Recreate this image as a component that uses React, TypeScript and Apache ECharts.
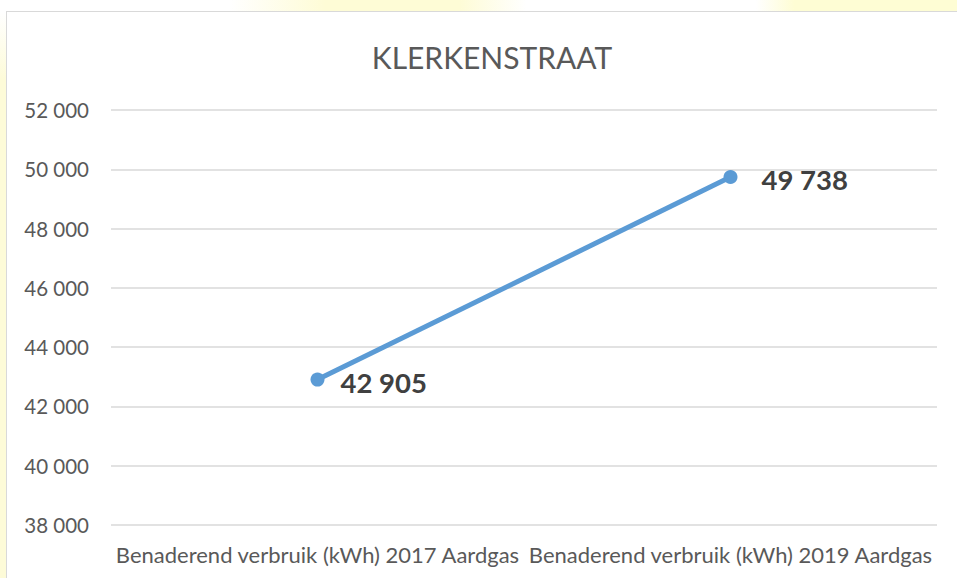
import React, { useEffect, useRef } from "react";
import * as echarts from "echarts";

const title = "KLERKENSTRAAT";
const categories = [
  "Benaderend verbruik (kWh) 2017 Aardgas",
  "Benaderend verbruik (kWh) 2019 Aardgas",
];
const values = [42905, 49738];
const yMin = 38000;
const yMax = 52000;
const yInterval = 2000;

const fmt = (v: number) =>
  String(Math.round(v)).replace(/\B(?=(\d{3})+(?!\d))/g, " ");

const FONT = "Lato, 'Open Sans', sans-serif";

export default function App() {
  const ref = useRef<HTMLDivElement>(null);
  useEffect(() => {
    document.body.style.margin = "0";
    const chart = echarts.init(ref.current!, null, { renderer: "svg" });
    chart.setOption({
      animation: false,
      backgroundColor: "transparent",
      title: {
        text: title,
        left: 487,
        top: 37,
        textAlign: "center",
        textStyle: {
          fontFamily: FONT,
          fontSize: 30,
          fontWeight: "normal",
          color: "#595959",
        },
      },
      grid: { left: 111, right: 20, top: 110, bottom: 53, containLabel: false },
      xAxis: {
        type: "category",
        data: categories,
        boundaryGap: true,
        axisLine: { show: false },
        axisTick: { show: false },
        axisLabel: {
          interval: 0,
          margin: 18,
          fontFamily: FONT,
          fontSize: 22,
          color: "#595959",
        },
      },
      yAxis: {
        type: "value",
        min: yMin,
        max: yMax,
        interval: yInterval,
        axisLine: { show: false },
        axisTick: { show: false },
        splitLine: { lineStyle: { color: "#d9d9d9", width: 1.5 } },
        axisLabel: {
          margin: 22,
          fontFamily: FONT,
          fontSize: 20.5,
          color: "#595959",
          formatter: (v: number) => fmt(v),
        },
      },
      series: [
        {
          type: "line",
          data: values.map((v, i) => ({
            value: v,
            label: i === 0 ? { distance: 16, offset: [0, 3] } : { distance: 24, offset: [0, 2] },
          })),
          symbol: "circle",
          symbolSize: 14,
          lineStyle: { color: "#5b9bd5", width: 5 },
          itemStyle: { color: "#5b9bd5" },
          label: {
            show: true,
            position: "right",
            fontFamily: FONT,
            fontSize: 27.5,
            fontWeight: "bold",
            color: "#404040",
            formatter: (p: any) => fmt(p.value),
          },
        },
      ],
    });
    return () => chart.dispose();
  }, []);

  return (
    <div
      style={{
        position: "relative",
        width: 957,
        height: 578,
        overflow: "hidden",
        background: "#ffffff",
      }}
    >
      <div
        style={{
          position: "absolute",
          left: 0,
          top: 0,
          width: 957,
          height: 12,
          background:
            "linear-gradient(to right, #ffffff 0%, #ffffff 24%, #fefcd6 34%, #fefcd6 48%, #ffffff 55%, #ffffff 79%, #fefdd4 83%, #fefdd4 100%)",
        }}
      />
      <div
        style={{
          position: "absolute",
          left: 0,
          top: 12,
          width: 7,
          height: 566,
          background: "linear-gradient(to bottom, #ffffff 0%, #fdfbd8 12%, #fdfbd8 100%)",
        }}
      />
      <div
        style={{
          position: "absolute",
          left: 6,
          top: 11,
          width: 960,
          height: 580,
          border: "1.5px solid #d9d9d9",
          background: "#ffffff",
          boxSizing: "border-box",
        }}
      />
      <div
        ref={ref}
        style={{ position: "absolute", left: 0, top: 0, width: 957, height: 578 }}
      />
    </div>
  );
}
